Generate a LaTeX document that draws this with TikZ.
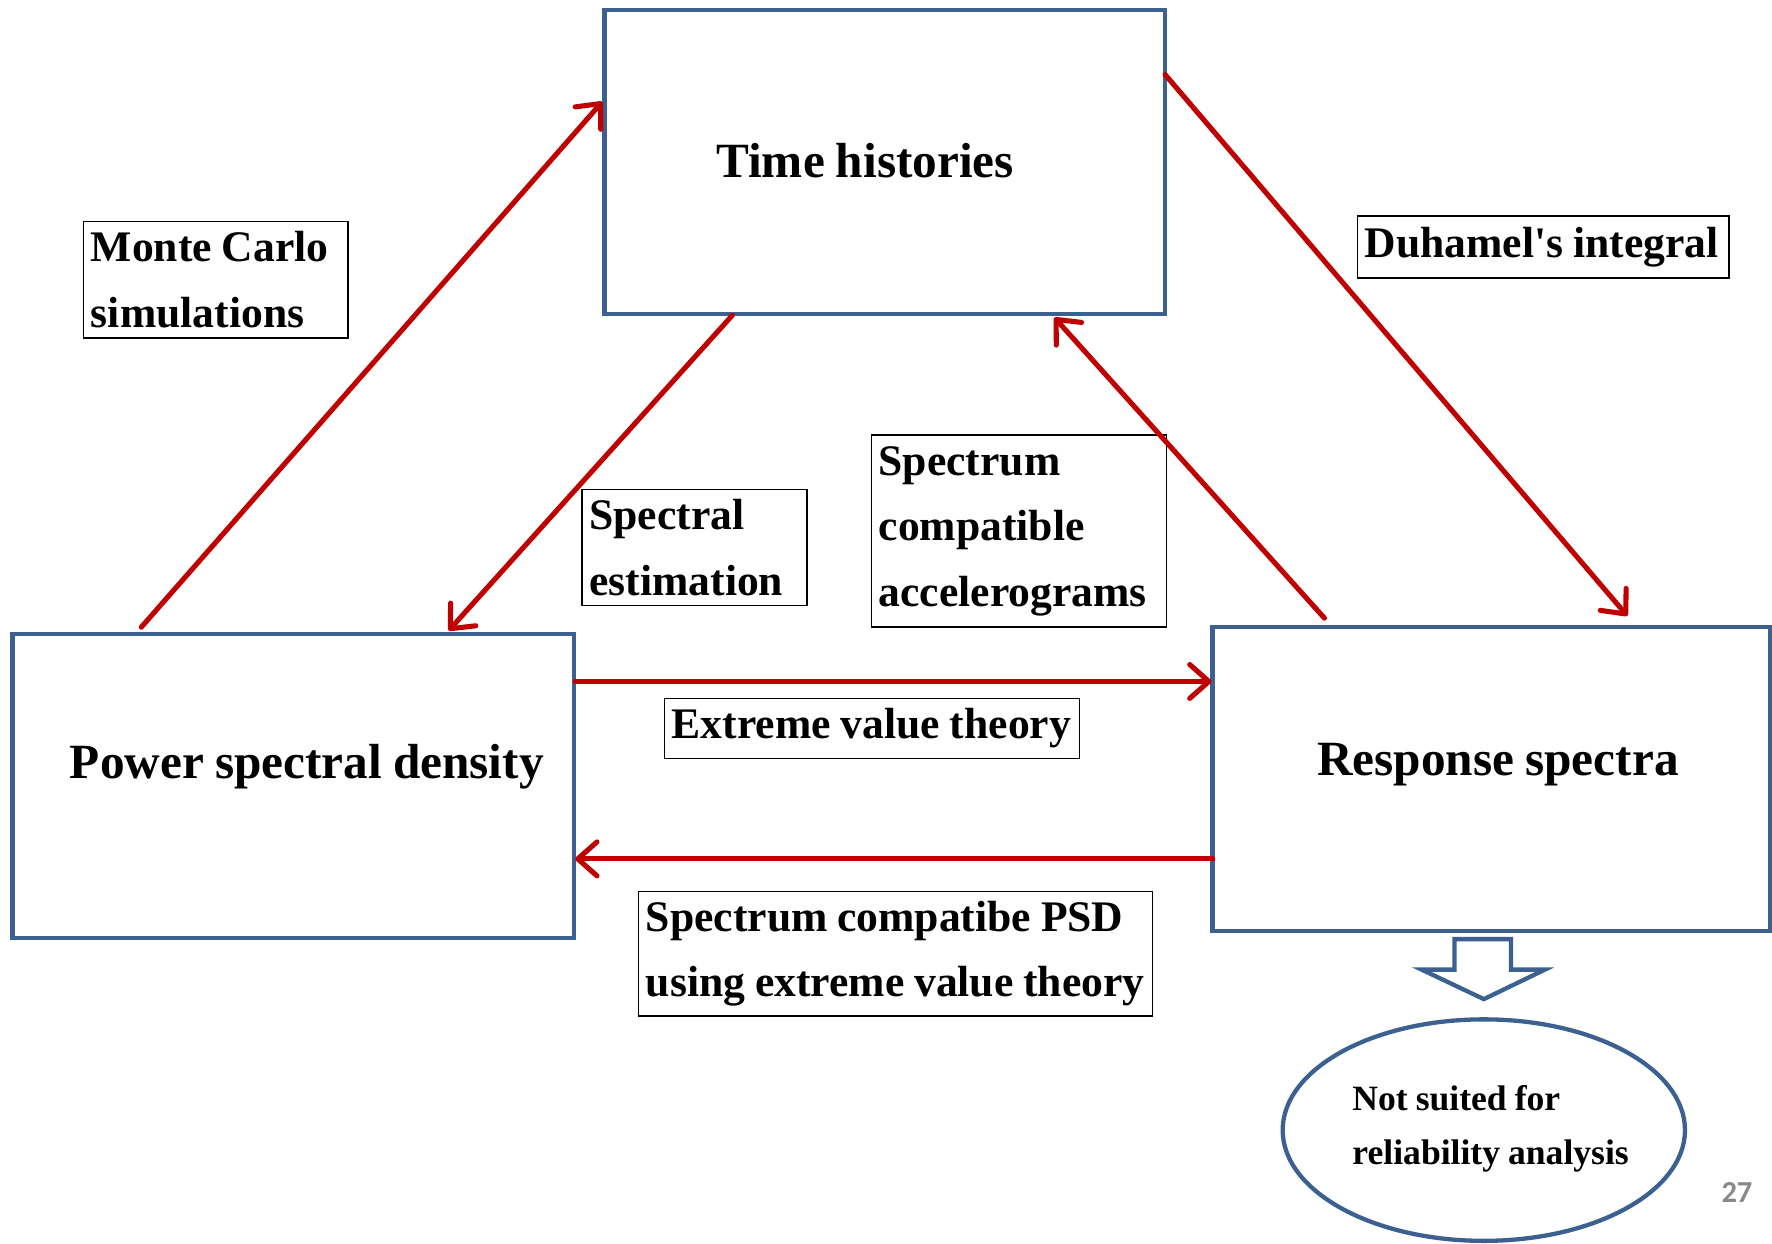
\documentclass[tikz,border=0pt]{standalone}
\usepackage{fontspec}
\setmainfont{Liberation Serif}[WordSpace=0.9,Ligatures=TeXOff]
\newfontfamily\pagefont{Carlito}
\usetikzlibrary{arrows.meta,calc,shapes.geometric}
\definecolor{boxblue}{RGB}{60,97,144}
\definecolor{arrred}{RGB}{192,0,0}
\definecolor{pgray}{RGB}{137,137,137}
\begin{document}
\begin{tikzpicture}[x=1pt,y=-1pt,
  bigbox/.style={draw=boxblue,line width=3.8pt,outer sep=0pt,inner sep=0pt},
  bigtext/.style={font=\fontsize{43.6}{50}\selectfont\bfseries,inner sep=0pt,anchor=base},
  lbl/.style={draw=black,line width=1.3pt,anchor=north west,align=flush left,inner xsep=6.5pt,inner ysep=0pt,outer sep=0pt,
    font=\fontsize{38.6}{58}\selectfont\bfseries,
    execute at begin node={\hyphenpenalty=10000\exhyphenpenalty=10000}},
  conn/.style={draw=arrred,line width=4.5pt,line cap=round,-{Straight Barb[length=17pt,width=30pt,round]}}
]
\useasboundingbox (0,0) rectangle (1568,1100);

% main boxes
\node[bigbox,minimum width=496pt,minimum height=269pt] (th) at (783,143.5) {};
\node[bigtext] (tht) at (765.5,157) {Time histories};
\node[bigbox,minimum width=497pt,minimum height=269pt] (psd) at (259.5,695.5) {};
\node[bigtext] (psdt) at (271.5,689) {Power spectral density};
\node[bigbox,minimum width=493pt,minimum height=269pt] (rs) at (1319.5,689.5) {};
\node[bigtext] (rst) at (1325.5,686) {Response spectra};

% labels
\node[lbl,text width=221pt,minimum height=103pt] (mc) at (74,196) {Monte Carlo\\simulations};
\node[lbl,text width=316pt,minimum height=55pt] (du) at (1201,191) {Duhamel's integral};
\node[lbl,text width=186pt,minimum height=103pt] (se) at (515,433) {Spectral\\estimation};
\node[lbl,text width=248pt,minimum height=170pt] (sca) at (771,385) {Spectrum\\compatible\\accelerograms};
\node[lbl,text width=354pt,minimum height=53pt] (evt) at (588,618) {Extreme value theory};
\node[lbl,text width=442pt,minimum height=110pt] (scp) at (565,789) {Spectrum compatibe PSD\\using extreme value theory};

% connectors
\draw[conn] ($(psd.north west)+(114,-6)$) -- ($(th.north west)+(-2,81)$);
\draw[conn] ($(th.south west)+(113,1)$) -- ($(psd.north west)+(386,-3)$);
\draw[conn] ($(th.north east)+(0,57)$) -- ($(rs.north west)+(367,-10)$);
\draw[conn] ($(rs.north west)+(99,-8)$) -- ($(th.south west)+(398,3)$);
\draw[conn] ($(psd.north east)+(1,42)$) -- ($(rs.north west)+(-1,48)$);
\draw[conn] ($(rs.north west)+(0,205)$) -- ($(psd.north east)+(1,199)$);

% ellipse and block arrow
\node[draw=boxblue,line width=3.8pt,ellipse,minimum width=356pt,minimum height=196pt,inner sep=0pt] (ns) at (1313,1000) {};
\node[align=flush left,inner sep=0pt,font=\fontsize{31.5}{48}\selectfont\bfseries] (nst) at (1319,999) {Not suited for\\reliability analysis};
\draw[draw=boxblue,line width=3.8pt,fill=white,line join=miter]
  ($(rs.south)+(-32.5,7)$) -- ++(50,0) -- ++(0,27) -- ++(30,0) -- ($(ns.north)+(0,-16)$)
  -- ($(rs.south)+(-61.5,34)$) -- ++(29,0) -- cycle;

\node[font=\pagefont\bfseries\fontsize{27}{30}\selectfont,text=pgray,inner sep=0pt] (pg) at (1537,1055) {27};
\end{tikzpicture}
\end{document}
